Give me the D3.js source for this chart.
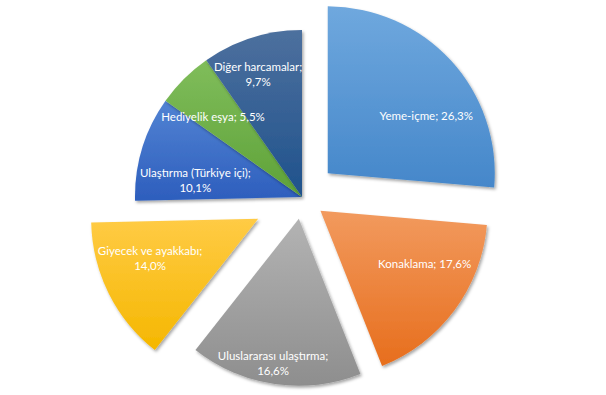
<!DOCTYPE html>
<html>
<head>
<meta charset="utf-8">
<script src="https://cdn.jsdelivr.net/npm/d3@7"></script>
<style>
  html, body { margin: 0; padding: 0; background: #fff; }
  svg text { font-family: Lato, "Open Sans", sans-serif; }
</style>
</head>
<body>
<div id="chart"></div>
<script>
// data
const categories = [
  "Yeme-içme",
  "Konaklama",
  "Uluslararası ulaştırma",
  "Giyecek ve ayakkabı",
  "Ulaştırma (Türkiye içi)",
  "Hediyelik eşya",
  "Diğer harcamalar"
];
const shares = [26.3, 17.6, 16.6, 14.0, 10.1, 5.5, 9.7];

// slice colours (top, bottom of gradient)
const topColors = ["#6fa8de", "#f29a5e", "#b3b3b3", "#ffcb45", "#5283d3", "#80bd5b", "#4d709e"];
const bottomColors = ["#4587ca", "#e76e1d", "#8e8e8e", "#f5b700", "#2d5ebd", "#5ea238", "#1f528c"];

// layout
const width = 606;
const height = 395;
const cx = 302;
const cy = 197;
const radius = 167;
const explode = [35, 23, 22, 49, 0, 0, 0];
// label placement: fraction along the slice angle, distance from slice tip
const labelAngleFrac = [0.63, 0.35, 0.53, 0.63, 0.28, 0.35, 0.44];
const labelDist = [114, 117, 147, 115, 108, 120, 131];

const trLocale = d3.formatLocale({
  decimal: ",",
  thousands: ".",
  grouping: [3],
  currency: ["", " ₺"]
});
const fmt = trLocale.format(".1f");

const svg = d3
  .select("#chart")
  .append("svg")
  .attr("width", width)
  .attr("height", height);

const defs = svg.append("defs");

// soft drop shadow
const shadow = defs
  .append("filter")
  .attr("id", "shadow")
  .attr("x", "-10%")
  .attr("y", "-10%")
  .attr("width", "130%")
  .attr("height", "130%");
shadow
  .append("feDropShadow")
  .attr("dx", 1.5)
  .attr("dy", 2)
  .attr("stdDeviation", 1.6)
  .attr("flood-color", "#000")
  .attr("flood-opacity", 0.35);

categories.forEach((c, i) => {
  const g = defs
    .append("linearGradient")
    .attr("id", `grad${i}`)
    .attr("x1", 0)
    .attr("y1", 0)
    .attr("x2", 0)
    .attr("y2", 1);
  g.append("stop").attr("offset", "0%").attr("stop-color", topColors[i]);
  g.append("stop").attr("offset", "100%").attr("stop-color", bottomColors[i]);
});

const pie = d3.pie().sort(null).value((d) => d);
const arcs = pie(shares);

const arc = d3.arc().innerRadius(0).outerRadius(radius);

const chartG = svg.append("g").attr("transform", `translate(${cx},${cy})`);

// offset of a slice tip from the pie centre
function tip(d, i) {
  const a = (d.startAngle + d.endAngle) / 2;
  return [Math.sin(a) * explode[i], -Math.cos(a) * explode[i]];
}

// slices
chartG
  .append("g")
  .attr("class", "slices")
  .selectAll("path")
  .data(arcs)
  .join("path")
  .attr("transform", (d, i) => `translate(${tip(d, i)})`)
  .attr("d", arc)
  .attr("fill", (d, i) => `url(#grad${i})`)
  .attr("filter", "url(#shadow)");

// labels (drawn on top of every slice)
const labelG = chartG.append("g").attr("class", "labels");

arcs.forEach((d, i) => {
  const [ox, oy] = tip(d, i);
  const a = d.startAngle + labelAngleFrac[i] * (d.endAngle - d.startAngle);
  const x = ox + Math.sin(a) * labelDist[i];
  const y = oy - Math.cos(a) * labelDist[i];
  const full = `${categories[i]}; ${fmt(d.data)}%`;
  const lines = full.length > 20 ? [`${categories[i]};`, `${fmt(d.data)}%`] : [full];

  const t = labelG
    .append("text")
    .attr("text-anchor", "middle")
    .attr("fill", "#fff")
    .style("font-size", "11.5px");

  lines.forEach((line, k) => {
    t.append("tspan")
      .attr("x", x)
      .attr("y", y + (k - (lines.length - 1) / 2) * 15)
      .attr("dominant-baseline", "central")
      .text(line);
  });
});
</script>
</body>
</html>
